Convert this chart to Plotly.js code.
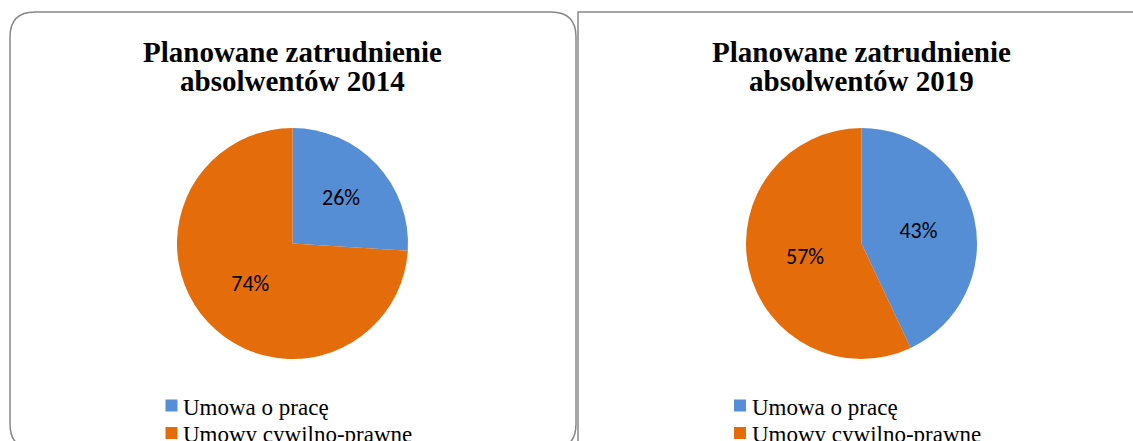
<!DOCTYPE html>
<html>
<head>
<meta charset="utf-8">
<script src="https://cdn.plot.ly/plotly-3.0.1.min.js"></script>
<style>
html,body{margin:0;padding:0;background:#fff;overflow:hidden;}
#chart{width:1133px;height:441px;}
</style>
</head>
<body>
<div id="chart"></div>
<script>
// ---- data ----
const categories = ["Umowa o pracę", "Umowy cywilno-prawne"];
const values2014 = [26, 74];
const values2019 = [43, 57];
const title2014 = ["Planowane zatrudnienie", "absolwentów 2014"];
const title2019 = ["Planowane zatrudnienie", "absolwentów 2019"];
const sliceColors = ["#558ED5", "#E46C0A"];

// ---- layout helpers ----
const W = 1133, H = 441;
const px = x => x / W;
const py = y => 1 - y / H;

function pieTrace(values, cx, cy, r) {
  return {
    type: "pie",
    labels: categories,
    values: values,
    sort: false,
    direction: "clockwise",
    rotation: 0,
    marker: {colors: sliceColors, line: {width: 0}},
    textinfo: "percent",
    texttemplate: "%{percent:.0%}",
    textposition: "inside",
    insidetextorientation: "horizontal",
    textfont: {family: "Carlito, Calibri, Lato, 'Noto Sans', sans-serif", size: 22, color: "#000"},
    hoverinfo: "none",
    domain: {x: [px(cx - r), px(cx + r)], y: [py(cy + r), py(cy - r)]},
    showlegend: false
  };
}

const data = [
  pieTrace(values2014, 292.5, 243.5, 115.5),
  pieTrace(values2019, 861.5, 243.5, 115.5)
];

const serif = "'Liberation Serif', 'DejaVu Serif', serif";

function titleAnns(lines, cx) {
  const ys = [52, 80.6];
  return lines.map((t, i) => ({
    text: "<b>" + t + "</b>",
    x: px(cx), y: py(ys[i]),
    xref: "paper", yref: "paper",
    xanchor: "center", yanchor: "middle",
    showarrow: false, borderpad: 0,
    font: {family: serif, size: 29, color: "#000"}
  }));
}

// legend drawn as annotations + square shapes, driven by categories/colors
const legendRowsY = [405.5, 433];
function legendItems(textX, boxX) {
  const anns = [], shapes = [];
  categories.forEach((c, i) => {
    anns.push({
      text: c, x: px(textX), y: py(legendRowsY[i] + 1.5),
      xref: "paper", yref: "paper", xanchor: "left", yanchor: "middle",
      showarrow: false, borderpad: 0,
      font: {family: serif, size: 23, color: "#000"}
    });
    shapes.push({
      type: "rect", xref: "paper", yref: "paper",
      x0: px(boxX), x1: px(boxX + 12),
      y0: py(legendRowsY[i] + 6), y1: py(legendRowsY[i] - 6),
      fillcolor: sliceColors[i], line: {width: 0}
    });
  });
  return {anns, shapes};
}
const leg1 = legendItems(182, 165.5);
const leg2 = legendItems(751, 734);

function roundedPath(x0, y0, x1, y1, r) {
  const P = (x, y) => px(x) + "," + py(y);
  return "M" + P(x0, y1 - r) +
    " L" + P(x0, y0 + r) +
    " Q" + P(x0, y0) + " " + P(x0 + r, y0) +
    " L" + P(x1 - r, y0) +
    " Q" + P(x1, y0) + " " + P(x1, y0 + r) +
    " L" + P(x1, y1 - r) +
    " Q" + P(x1, y1) + " " + P(x1 - r, y1) +
    " L" + P(x0 + r, y1) +
    " Q" + P(x0, y1) + " " + P(x0, y1 - r) + " Z";
}

const layout = {
  width: W, height: H,
  margin: {l: 0, r: 0, t: 0, b: 0, autoexpand: false},
  paper_bgcolor: "#fff",
  plot_bgcolor: "#fff",
  showlegend: false,
  annotations: titleAnns(title2014, 292.5)
    .concat(titleAnns(title2019, 861.5))
    .concat(leg1.anns).concat(leg2.anns),
  shapes: [
    {type: "path", xref: "paper", yref: "paper", path: roundedPath(10, 12, 576, 449, 25),
     line: {color: "#898989", width: 1.5}, fillcolor: "rgba(0,0,0,0)", layer: "below"},
    {type: "rect", xref: "paper", yref: "paper",
     x0: px(578), x1: px(1145), y0: py(460), y1: py(12),
     line: {color: "#898989", width: 1.5}, fillcolor: "rgba(0,0,0,0)", layer: "below"}
  ].concat(leg1.shapes).concat(leg2.shapes)
};

Plotly.newPlot("chart", data, layout, {displayModeBar: false, staticPlot: true});
</script>
</body>
</html>
